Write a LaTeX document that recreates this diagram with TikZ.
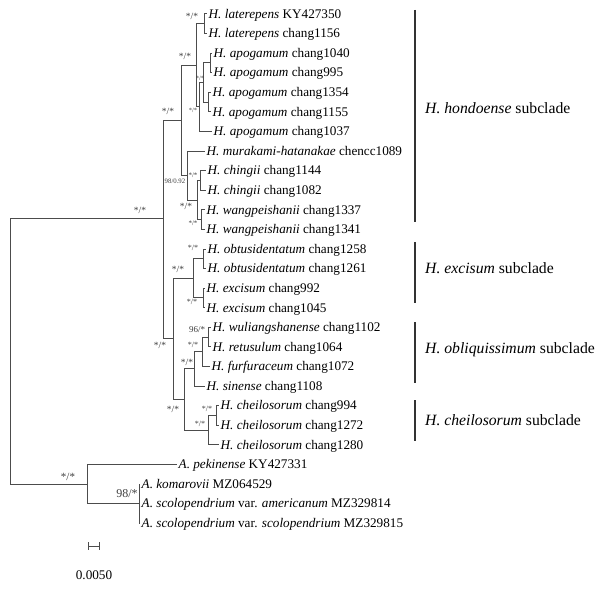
\documentclass[tikz,border=0pt]{standalone}
\usepackage{fontspec}
\setmainfont{Liberation Serif}
\begin{document}
\begin{tikzpicture}[x=1pt,y=-1pt,
  br/.style={draw=black!70, line width=1pt},
  leaf/.style={anchor=west, inner sep=0pt, text height=8.6pt, text depth=0pt, font=\fontsize{13.2}{15}\selectfont, xshift=1.5pt},
  bs/.style={inner sep=0pt, font=\fontsize{#1}{#1}\selectfont, text=black!75},
  cbar/.style={draw=black!80, line width=1.8pt},
  clab/.style={anchor=west, inner sep=0pt, font=\fontsize{15.7}{18}\selectfont}]
\path[fill=white, use as bounding box] (0,0) rectangle (600,591);

% leaf tips
\coordinate (t1) at (207,14.0);
\coordinate (t2) at (207,33.6);
\coordinate (t3) at (212,53.2);
\coordinate (t4) at (212,72.7);
\coordinate (t5) at (211,92.3);
\coordinate (t6) at (211,111.9);
\coordinate (t7) at (212,131.5);
\coordinate (t8) at (205,151.1);
\coordinate (t9) at (206,170.6);
\coordinate (t10) at (206,190.2);
\coordinate (t11) at (205,209.8);
\coordinate (t12) at (205,229.4);
\coordinate (t13) at (206,249.0);
\coordinate (t14) at (206,268.5);
\coordinate (t15) at (205,288.1);
\coordinate (t16) at (205,307.7);
\coordinate (t17) at (211,327.3);
\coordinate (t18) at (211,346.9);
\coordinate (t19) at (210,366.4);
\coordinate (t20) at (205,386.0);
\coordinate (t21) at (219,405.6);
\coordinate (t22) at (219,425.2);
\coordinate (t23) at (219,444.8);
\coordinate (t24) at (177,464.4);
\coordinate (t25) at (140,484.0);
\coordinate (t26) at (140,503.5);
\coordinate (t27) at (140,523.1);

% internal nodes
\coordinate (nLat) at (204,23.8);
\coordinate (nA12) at (210,63.0);
\coordinate (nA34) at (208,102.1);
\coordinate (nAin) at (203,82.5);
\coordinate (nApo) at (199,107.0);
\coordinate (nLA) at (196,65.4);
\coordinate (nChi) at (200,180.4);
\coordinate (nWan) at (201,219.6);
\coordinate (nCW) at (197,200.0);
\coordinate (nM) at (187,175.6);
\coordinate (nH) at (181,120.5);
\coordinate (nObt) at (203,258.8);
\coordinate (nExc) at (203,297.9);
\coordinate (nOE) at (193,278.3);
\coordinate (nF) at (208,337.1);
\coordinate (nE) at (202,351.7);
\coordinate (nD) at (194,368.9);
\coordinate (nP) at (216,415.4);
\coordinate (nG) at (208,430.1);
\coordinate (nC) at (184,399.5);
\coordinate (nB) at (173,338.9);
\coordinate (nI) at (163,218.0);
\coordinate (nSc) at (139,503.5);
\coordinate (nOut) at (87,484.0);
\coordinate (nRoot) at (10,351.0);

% leaf labels
\node[leaf] (l1) at (t1) {\textit{H. laterepens} KY427350};
\node[leaf] (l2) at (t2) {\textit{H. laterepens} chang1156};
\node[leaf] (l3) at (t3) {\textit{H. apogamum} chang1040};
\node[leaf] (l4) at (t4) {\textit{H. apogamum} chang995};
\node[leaf] (l5) at (t5) {\textit{H. apogamum} chang1354};
\node[leaf] (l6) at (t6) {\textit{H. apogamum} chang1155};
\node[leaf] (l7) at (t7) {\textit{H. apogamum} chang1037};
\node[leaf] (l8) at (t8) {\textit{H. murakami-hatanakae} chencc1089};
\node[leaf] (l9) at (t9) {\textit{H. chingii} chang1144};
\node[leaf] (l10) at (t10) {\textit{H. chingii} chang1082};
\node[leaf] (l11) at (t11) {\textit{H. wangpeishanii} chang1337};
\node[leaf] (l12) at (t12) {\textit{H. wangpeishanii} chang1341};
\node[leaf] (l13) at (t13) {\textit{H. obtusidentatum} chang1258};
\node[leaf] (l14) at (t14) {\textit{H. obtusidentatum} chang1261};
\node[leaf] (l15) at (t15) {\textit{H. excisum} chang992};
\node[leaf] (l16) at (t16) {\textit{H. excisum} chang1045};
\node[leaf] (l17) at (t17) {\textit{H. wuliangshanense} chang1102};
\node[leaf] (l18) at (t18) {\textit{H. retusulum} chang1064};
\node[leaf] (l19) at (t19) {\textit{H. furfuraceum} chang1072};
\node[leaf] (l20) at (t20) {\textit{H. sinense} chang1108};
\node[leaf] (l21) at (t21) {\textit{H. cheilosorum} chang994};
\node[leaf] (l22) at (t22) {\textit{H. cheilosorum} chang1272};
\node[leaf] (l23) at (t23) {\textit{H. cheilosorum} chang1280};
\node[leaf] (l24) at (t24) {\textit{A. pekinense} KY427331};
\node[leaf] (l25) at (t25) {\textit{A. komarovii} MZ064529};
\node[leaf] (l26) at (t26) {\textit{A. scolopendrium} var. \textit{americanum} MZ329814};
\node[leaf] (l27) at (t27) {\textit{A. scolopendrium} var. \textit{scolopendrium} MZ329815};

% branches
\draw[br] (nLat) |- (t1);  \draw[br] (nLat) |- (t2);
\draw[br] (nA12) |- (t3);  \draw[br] (nA12) |- (t4);
\draw[br] (nA34) |- (t5);  \draw[br] (nA34) |- (t6);
\draw[br] (nAin) |- (nA12); \draw[br] (nAin) |- (nA34);
\draw[br] (nApo) |- (nAin); \draw[br] (nApo) |- (t7);
\draw[br] (nLA) |- (nLat); \draw[br] (nLA) |- (nApo);
\draw[br] (nChi) |- (t9);  \draw[br] (nChi) |- (t10);
\draw[br] (nWan) |- (t11); \draw[br] (nWan) |- (t12);
\draw[br] (nCW) |- (nChi); \draw[br] (nCW) |- (nWan);
\draw[br] (nM) |- (t8);    \draw[br] (nM) |- (nCW);
\draw[br] (nH) |- (nLA);   \draw[br] (nH) |- (nM);
\draw[br] (nObt) |- (t13); \draw[br] (nObt) |- (t14);
\draw[br] (nExc) |- (t15); \draw[br] (nExc) |- (t16);
\draw[br] (nOE) |- (nObt); \draw[br] (nOE) |- (nExc);
\draw[br] (nF) |- (t17);   \draw[br] (nF) |- (t18);
\draw[br] (nE) |- (nF);    \draw[br] (nE) |- (t19);
\draw[br] (nD) |- (nE);    \draw[br] (nD) |- (t20);
\draw[br] (nP) |- (t21);   \draw[br] (nP) |- (t22);
\draw[br] (nG) |- (nP);    \draw[br] (nG) |- (t23);
\draw[br] (nC) |- (nD);    \draw[br] (nC) |- (nG);
\draw[br] (nB) |- (nOE);   \draw[br] (nB) |- (nC);
\draw[br] (nI) |- (nH);    \draw[br] (nI) |- (nB);
\draw[br] (nSc) |- (t25);  \draw[br] (nSc) |- (t26); \draw[br] (nSc) |- (t27);
\draw[br] (nOut) |- (t24); \draw[br] (nOut) |- (nSc);
\draw[br] (nRoot) |- (nI); \draw[br] (nRoot) |- (nOut);

% support values
\node[bs=9.5] (b1) at (192,16) {*/*};
\node[bs=9.5] (b2) at (185,56) {*/*};
\node[bs=6.5] (b3) at (200,78) {*/*};
\node[bs=6.5] (b4) at (193,110) {*/*};
\node[bs=9.5] (b5) at (168,111) {*/*};
\node[bs=6.8] (b6) at (175,181) {98/0.92};
\node[bs=7] (b7) at (193,175) {*/*};
\node[bs=9.5] (b8) at (186,206) {*/*};
\node[bs=7] (b9) at (193,223) {*/*};
\node[bs=9.5] (b10) at (140,210) {*/*};
\node[bs=8] (b11) at (193,248) {*/*};
\node[bs=9.5] (b12) at (178,269) {*/*};
\node[bs=8] (b13) at (192,302) {*/*};
\node[bs=9.5] (b14) at (160,345) {*/*};
\node[bs=9] (b15) at (197,330) {96/*};
\node[bs=8] (b16) at (193,345) {*/*};
\node[bs=9.5] (b17) at (187,362) {*/*};
\node[bs=9.5] (b18) at (173,409) {*/*};
\node[bs=8] (b19) at (207,409) {*/*};
\node[bs=8] (b20) at (200,424) {*/*};
\node[bs=11] (b21) at (68,477) {*/*};
\node[bs=12] (b22) at (127,494) {98/*};

% subclade bars
\coordinate (h1) at (415,10);  \coordinate (h2) at (415,222);
\coordinate (e1) at (415,242); \coordinate (e2) at (415,303);
\coordinate (o1) at (415,322); \coordinate (o2) at (415,383);
\coordinate (c1) at (415,400); \coordinate (c2) at (415,441);
\draw[cbar] (h1) -- (h2);
\draw[cbar] (e1) -- (e2);
\draw[cbar] (o1) -- (o2);
\draw[cbar] (c1) -- (c2);
\node[clab] (sh) at (425,108) {\textit{H. hondoense} subclade};
\node[clab] (se) at (425,268) {\textit{H. excisum} subclade};
\node[clab] (so) at (425,350) {\textit{H. obliquissimum} subclade};
\node[clab] (sc) at (425,420) {\textit{H. cheilosorum} subclade};

% scale bar
\coordinate (s1) at (88,546); \coordinate (s2) at (99,546);
\coordinate (s1a) at (88,542); \coordinate (s1b) at (88,550);
\coordinate (s2a) at (99,542); \coordinate (s2b) at (99,550);
\draw[br] (s1) -- (s2);
\draw[br] (s1a) -- (s1b);
\draw[br] (s2a) -- (s2b);
\node[inner sep=0pt, font=\fontsize{13.2}{15}\selectfont] (sl) at (94,575) {0.0050};
\end{tikzpicture}
\end{document}
